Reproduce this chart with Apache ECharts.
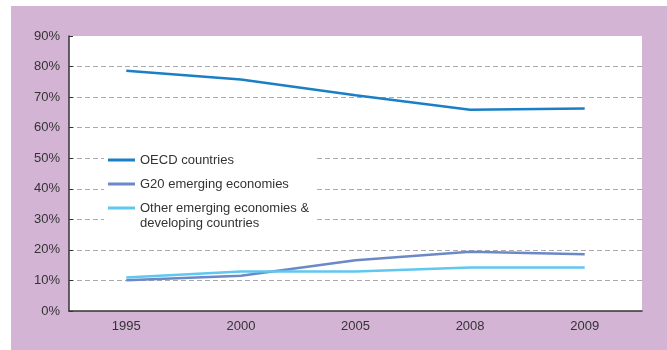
<!DOCTYPE html>
<html><head><meta charset="utf-8">
<script src="https://cdn.jsdelivr.net/npm/echarts@6/dist/echarts.min.js"></script>
<style>html,body{margin:0;padding:0;background:#fff;}#c{width:667px;height:350px;}</style>
</head><body><div id="c"></div>
<script>
const categories = ['1995', '2000', '2005', '2008', '2009'];
const oecd = [78.6, 75.8, 70.6, 65.9, 66.3];
const g20 = [10.1, 11.5, 16.6, 19.4, 18.6];
const other = [11.0, 12.9, 12.9, 14.2, 14.2];
const seriesNames = ['OECD countries', 'G20 emerging economies', 'Other emerging economies &'];
const yMin = 0, yMax = 90, yStep = 10;

const font = 'Liberation Sans, Arial, sans-serif';
const chart = echarts.init(document.getElementById('c'));
const colors = ['#1a7fc4', '#6c89c7', '#5ec8f0'];
chart.setOption({
  animation: false,
  textStyle: { fontFamily: font },
  graphic: [
    { type: 'rect', z: -10, silent: true, shape: { x: 11, y: 6, width: 656, height: 344 }, style: { fill: '#d3b4d5' } },
    { type: 'text', z: 100, left: 140, top: 217, style: { text: 'developing countries', fill: '#333', font: '13px ' + font } }
  ],
  grid: { left: 69, right: 25, top: 36, bottom: 39, show: true, backgroundColor: '#fff', borderWidth: 0 },
  legend: {
    orient: 'vertical', left: 104, top: 146,
    backgroundColor: '#fff', padding: [6, 8, 22, 4],
    itemWidth: 27, itemHeight: 3, itemGap: 8, icon: 'rect',
    textStyle: { fontSize: 13, color: '#333', lineHeight: 16, fontFamily: font },
    data: seriesNames
  },
  xAxis: {
    type: 'category', data: categories, boundaryGap: true,
    axisLine: { lineStyle: { color: '#333', width: 1.5 } },
    axisTick: { inside: true, length: 5, lineStyle: { color: '#333' } },
    axisLabel: { color: '#333', fontSize: 13, margin: 9, fontFamily: font }
  },
  yAxis: {
    type: 'value', min: yMin, max: yMax, interval: yStep,
    axisLine: { show: true, lineStyle: { color: '#333', width: 1.5 } },
    axisTick: { show: true, inside: true, length: 4, lineStyle: { color: '#333' } },
    axisLabel: { color: '#333', fontSize: 13, margin: 9, formatter: '{value}%', fontFamily: font },
    splitLine: { show: true, showMinLine: false, showMaxLine: false, lineStyle: { color: '#aaa', type: [5, 3], width: 1 } }
  },
  series: [
    { name: seriesNames[0], type: 'line', data: oecd, symbol: 'none', lineStyle: { width: 2.5, color: colors[0] }, itemStyle: { color: colors[0] } },
    { name: seriesNames[1], type: 'line', data: g20, symbol: 'none', lineStyle: { width: 2.5, color: colors[1] }, itemStyle: { color: colors[1] } },
    { name: seriesNames[2], type: 'line', data: other, symbol: 'none', lineStyle: { width: 2.5, color: colors[2] }, itemStyle: { color: colors[2] } }
  ]
});
</script></body></html>
